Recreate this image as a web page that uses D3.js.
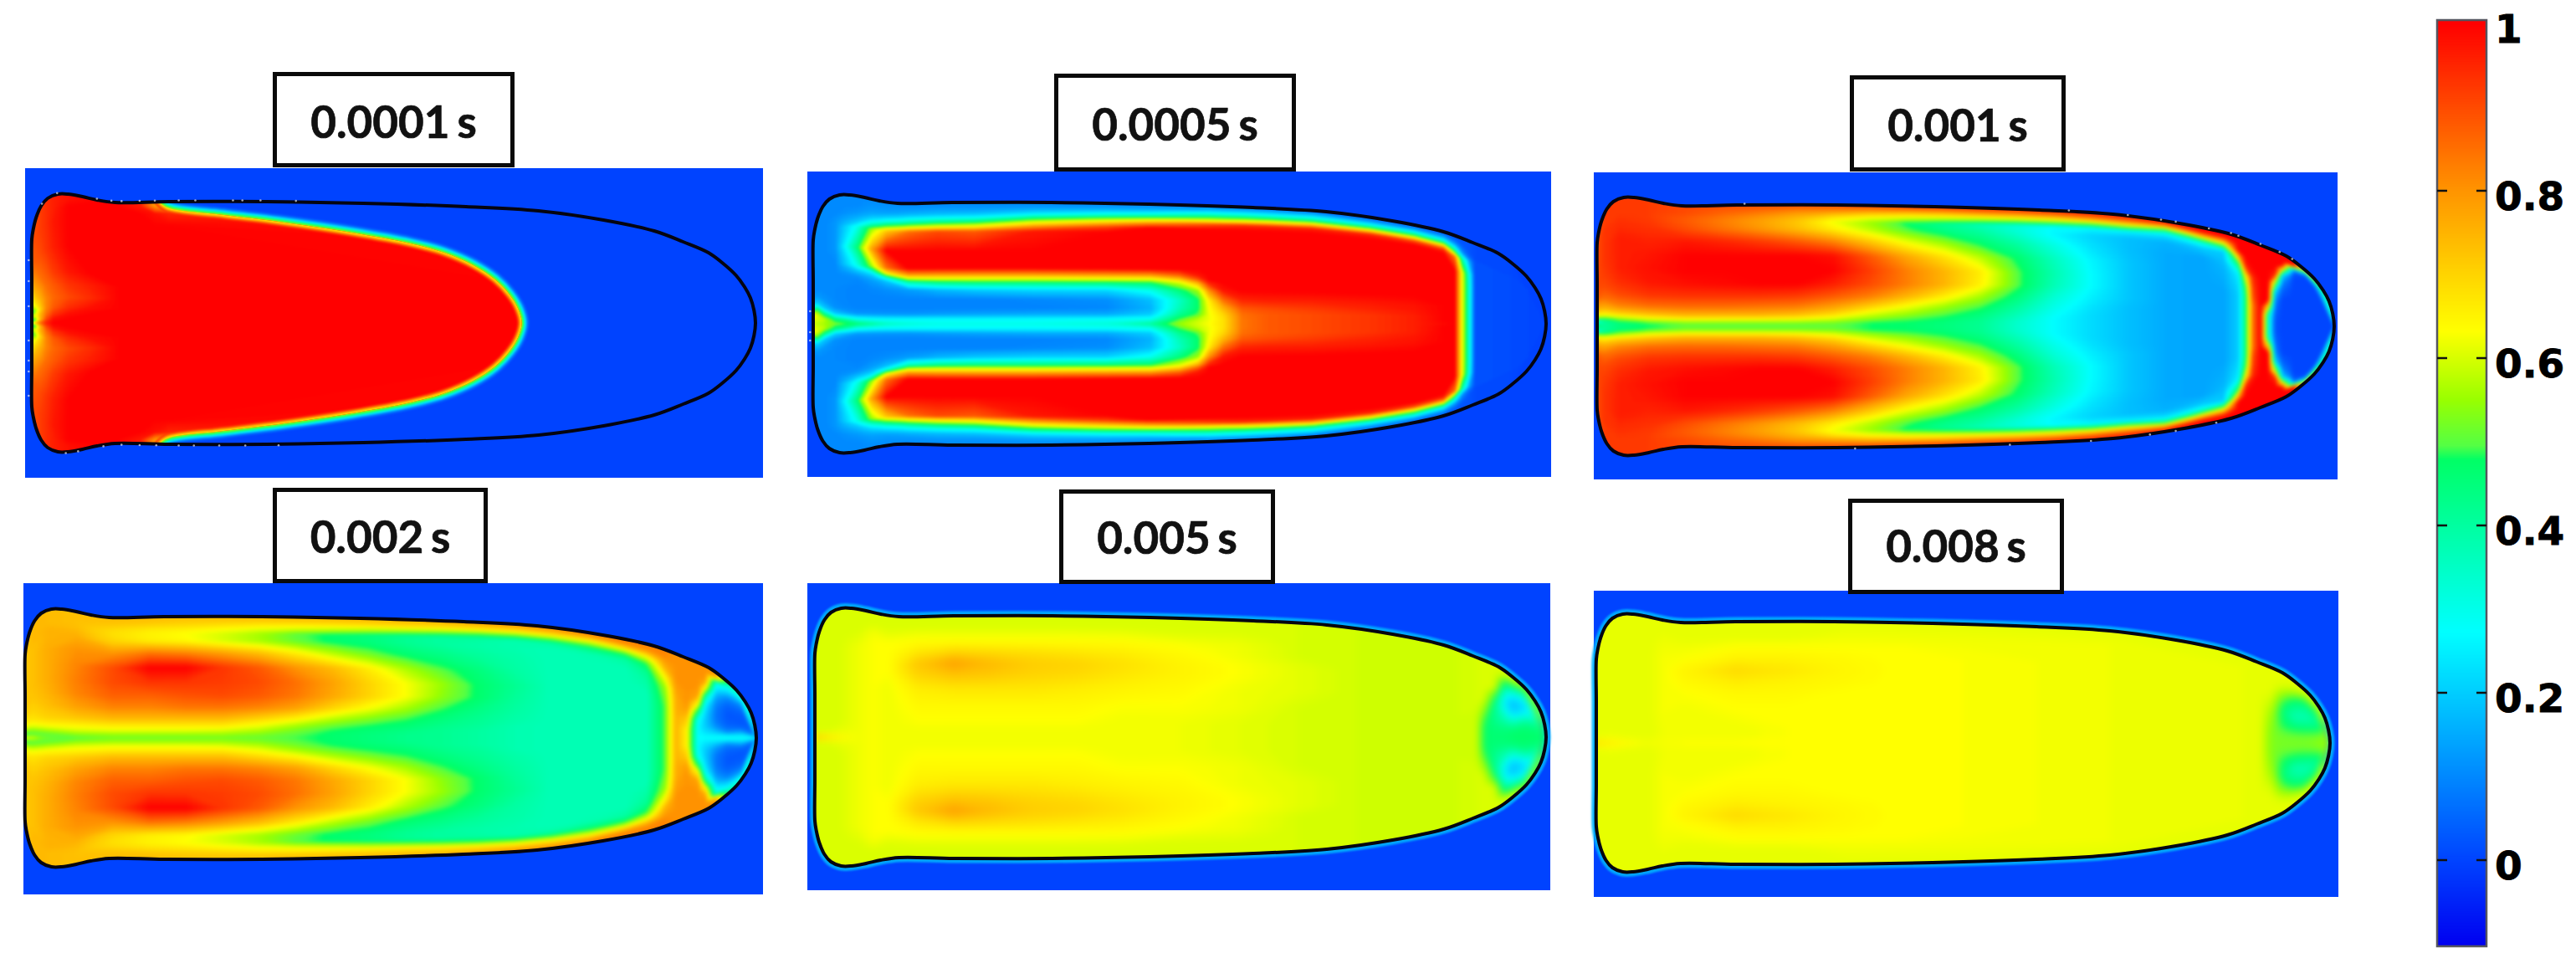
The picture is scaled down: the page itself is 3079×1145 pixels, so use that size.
<!DOCTYPE html>
<html><head><meta charset="utf-8">
<script src="https://cdn.jsdelivr.net/npm/d3@7"></script>
<style>html,body{margin:0;padding:0;background:#fff}svg{display:block}</style>
</head><body>
<script>
// ---------- colour bar ----------
const cbStops  = [-0.103, 0, 0.272, 0.478, 0.495, 0.55, 0.632, 0.8, 1];
const cbColors = ["#0000f0","#0044ff","#00ffff","#00ff66","#55ff44","#99ff00","#ffff00","#ff9400","#ff0000"];
const cbTicks  = [0, 0.2, 0.4, 0.6, 0.8, 1];
const cbTickLabels = ["0","0.2","0.4","0.6","0.8","1"];
const timeLabels = ["0.0001 s","0.0005 s","0.001 s","0.002 s","0.005 s","0.008 s"];

// ---------- droplet outline: axial position u, half-height ----------
const outlineU = [0,.002,.006,.013,.022,.036,.05,.07,.09,.115,.19,.324,.458,.6,.7,.79,.86,.9,.935,.954,.973,.985,.993,.998,1];
const outlineH = [100,112,126,140,149,154,154,151,147,144,145,145,143,139,134,123,110,97,84,72,57,43,30,15,0];

// ---------- 0.0001 s: red front ----------
const frontU = [-.05,.165,.175,.187,.265,.341,.442,.523,.57,.61,.64,.66,.672,.677];
const frontH = [175,160,146,138,129,121,108,95,84,69,52,34,17,0];
const u1 = [0,.005,.012,.02,.03,.05,.08,.12,.15,.17,.19,1];
const w1 = [0,.03,.07,.12,.2,.3,.4,.6,.8,.9,.96,1];
const m1 = [
[.55,.42,.55,.42,.6,.68,.75,.85,.88,.9,.9,.9],
[.7,.5,.62,.55,.68,.75,.8,.88,.9,.9,.9,.9],
[.85,.75,.75,.7,.75,.8,.85,.9,.92,.92,.92,.92],
[.95,.9,.85,.82,.82,.85,.88,.93,.94,.94,.94,.94],
[1,.98,.93,.88,.86,.88,.92,.96,.97,.96,.96,.96],
[1,1,.98,.94,.9,.93,.97,1,1,1,.98,.98],
[1,1,1,.98,.94,.96,1,1,1,1,1,.99],
[1,1,1,1,1,1,1,1,1,1,1,1],
[1,1,1,1,1,1,1,1,1,1,.97,.95],
[1,1,1,1,1,1,1,1,1,.98,.8,.75],
[1,1,1,1,1,1,1,1,1,.95,.7,.65],
[1,1,1,1,1,1,1,1,1,1,1,1]];

// ---------- 0.0005 s ----------
const u2 = [0,.005,.015,.03,.06,.08,.1,.13,.17,.22,.3,.4,.46,.5,.525,.54,.56,.585,.62,.68,.76,.82,.86,.875,.885,.891,.896,.903,1];
const w2 = [0,.035,.08,.13,.2,.28,.345,.375,.41,.46,.6,.76,.8,.84,.875,.905,.935,.965,1];
const m2 = [
[.6,.6,.63,.58,.25,.13,.1,.1,.1,.1,.1,.1,.1,.1,.1,.1,.1,.1,.1],
[.58,.6,.62,.5,.2,.12,.1,.1,.1,.1,.1,.1,.1,.1,.1,.1,.1,.1,.1],
[.56,.58,.45,.2,.12,.1,.1,.1,.1,.1,.1,.1,.1,.1,.1,.1,.1,.1,.1],
[.52,.45,.2,.11,.1,.1,.1,.1,.1,.1,.12,.12,.12,.11,.1,.1,.1,.1,.1],
[.45,.3,.12,.09,.09,.09,.1,.12,.18,.3,.45,.3,.2,.15,.12,.11,.1,.1,.1],
[.4,.28,.12,.09,.09,.1,.13,.17,.25,.55,.78,.55,.35,.22,.16,.13,.12,.11,.1],
[.35,.27,.12,.09,.09,.11,.18,.3,.62,.85,1,.72,.5,.3,.2,.14,.12,.11,.1],
[.32,.27,.12,.09,.09,.13,.38,.6,.8,1,1,.85,.6,.38,.25,.17,.13,.11,.1],
[.3,.27,.13,.09,.09,.17,.45,.63,.8,1,1,.9,.63,.42,.27,.18,.14,.11,.1],
[.3,.27,.14,.09,.09,.2,.47,.63,.8,1,1,.88,.65,.45,.28,.19,.14,.11,.1],
[.3,.27,.15,.09,.1,.22,.47,.63,.8,1,1,.97,.8,.6,.42,.25,.17,.12,.1],
[.32,.28,.15,.1,.11,.22,.47,.63,.8,1,1,1,.92,.72,.52,.33,.2,.13,.1],
[.4,.3,.2,.16,.18,.3,.48,.63,.8,1,1,1,1,.8,.58,.37,.22,.13,.1],
[.55,.5,.42,.37,.35,.45,.6,.72,.87,1,1,1,1,.85,.62,.42,.27,.14,.1],
[.6,.58,.5,.47,.47,.55,.75,.88,.97,1,1,1,1,.88,.63,.45,.3,.15,.1],
[.63,.62,.62,.63,.66,.8,.95,1,1,1,1,1,1,.9,.63,.47,.3,.17,.1],
[.68,.68,.7,.75,.85,.97,1,1,1,1,1,1,1,.92,.63,.47,.3,.17,.08],
[.84,.84,.85,.88,.95,1,1,1,1,1,1,1,1,.94,.65,.48,.3,.17,.08],
[.88,.88,.88,.9,.96,1,1,1,1,1,1,1,1,.95,.68,.48,.3,.17,.08],
[.9,.9,.9,.92,.96,1,1,1,1,1,1,1,1,.96,.72,.48,.3,.17,.05],
[.93,.93,.93,.95,.97,1,1,1,1,1,1,1,1,.95,.7,.47,.27,.13,.05],
[.96,.96,.96,.97,.98,1,1,1,1,1,1,1,1,.9,.65,.45,.27,.12,.05],
[.99,1,1,1,1,1,1,1,1,1,1,1,.95,.75,.5,.3,.17,.08,.03],
[1,1,1,1,1,1,1,1,1,1,1,.85,.6,.4,.25,.15,.08,.04,.02],
[.63,.63,.63,.63,.63,.63,.63,.63,.63,.63,.63,.4,.25,.12,.08,.05,.03,.02,.02],
[.47,.47,.47,.47,.47,.47,.47,.47,.47,.47,.45,.25,.12,.06,.04,.03,.02,.02,.02],
[.27,.27,.27,.27,.27,.27,.27,.27,.27,.27,.25,.12,.06,.03,.02,.02,.02,.02,.02],
[.02,.02,.02,.02,.02,.02,.02,.02,.02,.02,.02,.02,.01,.01,.01,.01,.01,.01,.01],
[0,0,0,0,0,0,0,0,0,0,0,0,0,0,0,0,0,0,0]];

// ---------- 0.001 s ----------
const u3 = [0,.01,.03,.07,.12,.17,.22,.27,.32,.37,.42,.47,.52,.57,.62,.67,.72,.77,.82,.85,.87,.88,.89,.9,.91,.92,.93,.945,.96,1];
const w3 = [0,.03,.06,.1,.16,.25,.35,.46,.58,.7,.8,.86,.9,.94,.97,1];
const m3 = [
[.5,.35,.3,.55,.7,.8,.88,.9,.9,.9,.9,.9,.9,.9,.9,.9],
[.42,.4,.45,.63,.75,.85,.9,.92,.93,.93,.93,.93,.92,.92,.92,.92],
[.45,.45,.55,.7,.82,.9,.94,.96,.96,.96,.94,.93,.92,.92,.92,.92],
[.47,.5,.62,.74,.85,.93,.97,.98,.97,.95,.93,.92,.92,.92,.92,.92],
[.5,.53,.65,.76,.85,.93,.98,1,1,.97,.9,.88,.88,.9,.9,.9],
[.5,.53,.65,.76,.85,.93,.99,1,1,.95,.85,.83,.84,.87,.88,.9],
[.5,.53,.65,.76,.84,.93,1,1,1,.92,.8,.78,.8,.84,.87,.9],
[.5,.53,.64,.74,.83,.92,1,1,1,.88,.74,.72,.75,.8,.85,.9],
[.5,.52,.6,.69,.78,.88,.96,1,.98,.82,.66,.62,.68,.78,.85,.9],
[.48,.48,.54,.6,.7,.83,.9,.92,.88,.72,.58,.55,.63,.74,.84,.9],
[.47,.47,.5,.55,.62,.75,.83,.83,.77,.62,.5,.47,.6,.72,.84,.92],
[.45,.45,.47,.5,.55,.66,.75,.75,.68,.55,.44,.42,.58,.72,.84,.92],
[.42,.42,.43,.45,.49,.56,.65,.66,.58,.47,.4,.37,.55,.72,.85,.92],
[.34,.34,.35,.37,.4,.45,.5,.5,.47,.4,.33,.32,.53,.72,.85,.93],
[.27,.27,.27,.28,.3,.33,.37,.38,.36,.31,.26,.27,.52,.72,.86,.94],
[.22,.22,.22,.22,.23,.25,.27,.27,.26,.23,.21,.26,.5,.74,.88,.95],
[.18,.18,.18,.18,.18,.19,.19,.19,.19,.18,.18,.25,.52,.76,.9,.96],
[.15,.15,.15,.15,.15,.15,.15,.15,.15,.15,.16,.22,.35,.62,.88,.97],
[.14,.14,.14,.14,.14,.14,.14,.14,.14,.14,.2,.35,.6,.85,1,1],
[.14,.14,.14,.14,.14,.14,.14,.15,.16,.18,.2,.5,.7,.9,1,1],
[.2,.2,.2,.2,.2,.2,.2,.22,.25,.45,.8,1,1,1,1,1],
[.45,.45,.45,.45,.45,.45,.45,.5,.65,.95,1,1,1,1,1,1],
[.85,.85,.85,.85,.85,.85,.9,.92,.95,1,1,1,1,1,1,1],
[1,1,1,1,1,1,1,1,1,1,1,1,1,1,1,1],
[.35,.35,.35,.35,.4,.7,1,1,1,1,1,1,1,1,1,1],
[.02,.02,.02,.03,.04,.06,.1,.2,.55,.95,1,1,1,1,1,1],
[0,0,0,0,0,0,0,.03,.08,.2,.7,1,1,1,1,1],
[0,0,0,0,0,0,0,0,0,0,.02,.1,.5,1,1,1],
[0,0,0,0,0,0,0,0,0,0,0,0,.05,.2,.45,.7],
[0,0,0,0,0,0,0,0,0,0,0,0,0,0,.15,.3]];

// ---------- 0.002 s ----------
const u4 = [0,.01,.03,.07,.12,.17,.22,.27,.32,.37,.42,.47,.52,.57,.62,.67,.72,.77,.82,.85,.875,.89,.905,.92,.93,.945,.96,.98,1];
const w4 = w3;
const m4 = [
[.65,.48,.5,.58,.65,.7,.72,.72,.72,.72,.72,.72,.72,.72,.72,.72],
[.6,.5,.52,.6,.67,.7,.72,.73,.73,.73,.73,.74,.74,.74,.74,.74],
[.52,.5,.56,.64,.7,.73,.75,.76,.76,.76,.75,.75,.74,.74,.74,.74],
[.5,.54,.6,.65,.72,.78,.82,.83,.82,.8,.76,.74,.73,.73,.73,.73],
[.52,.55,.61,.66,.74,.82,.87,.9,.9,.8,.7,.68,.69,.72,.73,.73],
[.52,.55,.61,.66,.74,.82,.87,.93,1,.84,.66,.65,.67,.71,.73,.73],
[.52,.55,.61,.66,.74,.84,.89,.93,1,.82,.64,.63,.66,.7,.72,.73],
[.52,.55,.6,.66,.74,.84,.9,.92,.93,.78,.6,.6,.64,.69,.72,.73],
[.51,.53,.57,.62,.7,.82,.88,.9,.88,.73,.56,.56,.62,.68,.72,.73],
[.49,.5,.52,.56,.65,.78,.84,.85,.8,.66,.51,.5,.6,.67,.72,.73],
[.47,.47,.48,.51,.58,.7,.77,.78,.74,.58,.47,.47,.58,.67,.72,.73],
[.45,.45,.46,.48,.53,.63,.7,.7,.66,.52,.45,.45,.56,.67,.72,.74],
[.43,.43,.44,.46,.49,.56,.63,.63,.57,.47,.42,.42,.54,.67,.72,.75],
[.42,.42,.42,.43,.45,.49,.54,.55,.5,.44,.4,.4,.52,.66,.72,.76],
[.4,.4,.4,.41,.42,.44,.47,.47,.45,.41,.39,.4,.5,.66,.73,.78],
[.38,.38,.38,.38,.39,.4,.41,.42,.4,.39,.38,.38,.5,.66,.74,.8],
[.37,.37,.37,.37,.37,.37,.37,.37,.37,.37,.37,.4,.52,.68,.76,.8],
[.37,.37,.37,.37,.37,.37,.37,.37,.37,.37,.38,.45,.55,.68,.78,.82],
[.37,.37,.37,.37,.37,.37,.37,.37,.37,.37,.4,.5,.62,.76,.82,.82],
[.37,.37,.37,.37,.37,.37,.37,.37,.39,.42,.5,.62,.72,.8,.82,.82],
[.5,.5,.5,.5,.5,.5,.5,.52,.55,.65,.75,.78,.8,.82,.82,.82],
[.75,.75,.75,.75,.75,.75,.76,.76,.78,.8,.8,.8,.8,.8,.8,.8],
[.65,.65,.65,.65,.68,.72,.78,.8,.8,.8,.8,.8,.8,.8,.8,.8],
[.27,.27,.27,.27,.27,.3,.45,.65,.78,.8,.8,.8,.8,.8,.8,.8],
[.27,.26,.24,.22,.2,.2,.22,.27,.4,.65,.78,.8,.8,.8,.8,.8],
[.27,.26,.22,.18,.12,.08,.07,.08,.12,.2,.28,.35,.6,.75,.8,.8],
[.27,.26,.2,.12,.07,.04,.03,.03,.05,.1,.2,.25,.3,.35,.4,.5],
[.27,.26,.24,.2,.12,.05,.03,.03,.04,.07,.12,.18,.25,.3,.3,.3],
[.27,.26,.25,.22,.15,.08,.05,.05,.06,.08,.12,.18,.25,.3,.3,.3]];

// ---------- 0.005 s ----------
const u5 = [0,.01,.03,.06,.08,.1,.14,.19,.24,.3,.36,.42,.5,.58,.66,.74,.82,.88,.905,.915,.93,.945,.955,.97,1];
const w5 = [0,.015,.05,.12,.25,.4,.52,.61,.7,.78,.85,.92,1];
const m5 = [
[.8,.65,.6,.6,.6,.6,.6,.6,.6,.6,.6,.6,.6],
[.75,.65,.6,.6,.6,.6,.6,.6,.6,.6,.6,.6,.6],
[.68,.63,.61,.6,.6,.6,.6,.6,.6,.6,.6,.6,.6],
[.62,.62,.62,.62,.62,.62,.62,.62,.62,.61,.6,.6,.6],
[.63,.63,.63,.63,.63,.63,.63,.63,.63,.63,.62,.6,.6],
[.62,.62,.62,.62,.62,.62,.63,.63,.63,.63,.61,.6,.6],
[.62,.62,.62,.63,.64,.66,.7,.72,.67,.64,.62,.6,.6],
[.62,.62,.62,.63,.64,.67,.73,.78,.7,.64,.62,.6,.6],
[.62,.62,.62,.63,.64,.67,.72,.74,.69,.64,.62,.6,.6],
[.62,.62,.62,.63,.64,.67,.7,.71,.68,.64,.62,.6,.6],
[.62,.62,.62,.63,.64,.66,.69,.7,.67,.64,.62,.6,.6],
[.62,.62,.62,.62,.63,.65,.67,.68,.66,.64,.62,.6,.6],
[.62,.62,.62,.62,.63,.64,.65,.65,.64,.63,.61,.6,.6],
[.61,.61,.61,.61,.62,.62,.63,.63,.62,.62,.61,.6,.6],
[.6,.6,.6,.6,.6,.61,.61,.61,.6,.6,.6,.6,.6],
[.595,.595,.595,.595,.595,.595,.595,.595,.595,.595,.595,.595,.595],
[.59,.59,.59,.59,.59,.59,.59,.59,.59,.59,.59,.59,.59],
[.595,.595,.595,.595,.595,.595,.595,.595,.595,.595,.595,.595,.595],
[.59,.59,.59,.59,.59,.6,.6,.6,.6,.6,.6,.6,.6],
[.47,.47,.47,.47,.5,.56,.6,.6,.6,.6,.6,.6,.6],
[.46,.46,.46,.45,.42,.42,.46,.52,.6,.6,.6,.6,.6],
[.46,.46,.46,.45,.38,.28,.23,.27,.33,.42,.46,.58,.6],
[.47,.47,.47,.46,.36,.22,.17,.2,.27,.38,.46,.55,.6],
[.47,.47,.47,.47,.44,.34,.24,.22,.25,.3,.38,.46,.55],
[.47,.47,.47,.47,.46,.45,.43,.43,.44,.45,.46,.47,.5]];

// ---------- 0.008 s ----------
const u6 = [0,.02,.04,.07,.09,.12,.19,.26,.34,.42,.5,.6,.7,.8,.88,.905,.92,.935,.95,.965,.98,1];
const w6 = [0,.015,.05,.12,.25,.4,.5,.6,.7,.8,.88,1];
const m6 = [
[.75,.65,.62,.61,.61,.61,.61,.61,.61,.61,.61,.61],
[.68,.64,.62,.61,.61,.61,.61,.61,.61,.61,.61,.61],
[.65,.63,.615,.61,.61,.61,.61,.61,.61,.61,.61,.61],
[.62,.62,.61,.61,.61,.61,.61,.61,.61,.61,.61,.61],
[.625,.625,.62,.62,.625,.625,.625,.625,.625,.62,.615,.61],
[.63,.63,.62,.62,.62,.63,.64,.65,.63,.62,.61,.61],
[.63,.63,.62,.62,.63,.64,.66,.69,.65,.63,.61,.61],
[.63,.63,.63,.63,.63,.64,.65,.67,.65,.63,.61,.61],
[.63,.63,.63,.63,.63,.63,.64,.645,.64,.63,.62,.61],
[.63,.63,.63,.63,.63,.63,.63,.63,.63,.63,.62,.61],
[.63,.63,.63,.63,.63,.63,.63,.63,.63,.625,.62,.61],
[.625,.625,.625,.625,.625,.625,.625,.625,.625,.62,.62,.61],
[.62,.62,.62,.62,.62,.62,.62,.62,.62,.62,.62,.61],
[.615,.615,.615,.615,.615,.615,.615,.615,.615,.615,.615,.61],
[.615,.615,.615,.615,.615,.615,.615,.615,.615,.615,.615,.61],
[.61,.61,.61,.61,.61,.61,.61,.61,.61,.61,.61,.61],
[.53,.53,.53,.53,.54,.56,.58,.6,.61,.61,.61,.61],
[.52,.52,.52,.51,.48,.46,.47,.5,.55,.6,.61,.61],
[.52,.52,.52,.51,.46,.38,.4,.44,.48,.55,.6,.61],
[.52,.52,.52,.51,.47,.4,.37,.4,.44,.48,.55,.61],
[.53,.53,.53,.52,.49,.44,.41,.41,.44,.48,.55,.6],
[.55,.55,.55,.55,.55,.54,.53,.53,.54,.55,.57,.58]];

// ---------- wall speckles (axial position, signed fraction of half-height) ----------
const speckU1 = [.014,.035,.09,.11,.124,.149,.17,.203,.226,.278,.291,.316,.365,.047,.064,.099,.124,.149,.172,.203,.224,.259,.295,.341,-.002,-.002,-.002,-.002,-.002,-.002,-.002];
const speckW1 = [1,1,1,1,1,1,1,1,1,1,1,1,1,-1,-1,-1,-1,-1,-1,-1,-1,-1,-1,-1,.75,.5,.2,-.21,-.45,-.58,-.87];
const speckU3 = [.2,.64,.72,.765,.785,.83,.86,.87,.9,.926,.943,.35,.56,.67,.75,.785,.84];
const speckW3 = [1,1,1,1,1,1,1,1,1,1,1,-1,-1,-1,-1,-1,-1];
const speckU2 = [-.002,-.002,-.002];
const speckW2 = [.15,-.1,-.2];

const panelData = [
  {m:m1,u:u1,w:w1,front:true, speckU:speckU1,speckW:speckW1,halo:0,blur:1.2},
  {m:m2,u:u2,w:w2,speckU:speckU2,speckW:speckW2,halo:0,blur:1.6},
  {m:m3,u:u3,w:w3,speckU:speckU3,speckW:speckW3,halo:0,blur:2},
  {m:m4,u:u4,w:w4,speckU:[],speckW:[],halo:0,blur:2},
  {m:m5,u:u5,w:w5,speckU:[],speckW:[],halo:11,blur:4},
  {m:m6,u:u6,w:w6,speckU:[],speckW:[],halo:11,blur:4}
];

// ---------- layout ----------
const layout = [
  {x0:30,  y0:201,x1:912, y1:571, wall:38,  nose:903, cy:386,box:[326,86,615,200], base:165},
  {x0:965, y0:205,x1:1854,y1:570, wall:972, nose:1848,cy:387,box:[1260,88,1549,205],base:168},
  {x0:1905,y0:206,x1:2794,y1:573, wall:1909,nose:2790,cy:390,box:[2211,90,2469,205],base:169},
  {x0:28,  y0:697,x1:912, y1:1069,wall:30,  nose:904, cy:882,box:[326,583,583,697], base:661},
  {x0:965, y0:697,x1:1853,y1:1064,wall:974, nose:1848,cy:881,box:[1266,585,1524,698],base:662},
  {x0:1905,y0:706,x1:2795,y1:1072,wall:1908,nose:2785,cy:888,box:[2209,596,2467,710],base:672}
];

const W = 3079, H = 1145;
const svg = d3.select("body").append("svg").attr("width",W).attr("height",H).attr("viewBox",[0,0,W,H]);
svg.append("rect").attr("width",W).attr("height",H).attr("fill","#fff");
const defs = svg.append("defs");
[1,1.2,1.6,2,4].forEach(s=>{
  defs.append("filter").attr("id","blur"+String(s).replace(".","_"))
    .attr("x","-5%").attr("y","-5%").attr("width","110%").attr("height","110%")
    .attr("color-interpolation-filters","sRGB")
    .append("feGaussianBlur").attr("stdDeviation",s);
});
const blurId = s=>"url(#blur"+String(s).replace(".","_")+")";

const colour = d3.scaleLinear().domain(cbStops).range(cbColors).clamp(true);
const bgBlue = "#0043ff";
const halfH = d3.scaleLinear().domain(outlineU).range(outlineH).clamp(true);
const levels = d3.range(-0.02,1.005,0.005);

function closedPts(us,hs,extra){
  const top = us.map((u,i)=>[u,hs[i]]);
  const bottom = us.map((u,i)=>[u,-hs[i]]).reverse();
  if(top[top.length-1][1]===0) bottom.shift();
  return (extra||[]).concat(top,bottom);
}

panelData.forEach((pd,pi)=>{
  const L = layout[pi];
  const x = d3.scaleLinear().domain([0,1]).range([L.wall,L.nose]);
  const y = d3.scaleLinear().domain([-1,1]).range([L.cy+1,L.cy-1]);
  const line = d3.line().x(d=>x(d[0])).y(d=>y(d[1])).curve(d3.curveCatmullRomClosed.alpha(.5));
  const g = svg.append("g");
  g.append("rect").attr("x",L.x0).attr("y",L.y0).attr("width",L.x1-L.x0).attr("height",L.y1-L.y0).attr("fill",bgBlue);

  const shape = line(closedPts(outlineU,outlineH,[[0,-50],[0,0],[0,50]]));
  const clipId = "shape"+pi;
  defs.append("clipPath").attr("id",clipId).append("path").attr("d",shape);

  // grid, padded and mirrored about the axis
  const colsP = [pd.u[0]-.06,...pd.u,pd.u[pd.u.length-1]+.06];
  const rowsS = [1.4,...pd.w.slice().reverse(),...pd.w.slice(1).map(v=>-v),-1.4];
  const n = colsP.length, m = rowsS.length;
  const vals = new Array(n*m);
  const rowIdx = [pd.w.length-1,...d3.range(pd.w.length-1,-1,-1),...d3.range(1,pd.w.length),pd.w.length-1];
  for(let j=0;j<m;j++)for(let i=0;i<n;i++){
    const ci = Math.max(0,Math.min(pd.u.length-1,i-1));
    vals[i+j*n] = pd.m[ci][rowIdx[j]];
  }
  const iu = d3.scaleLinear().domain(d3.range(n).map(i=>i+.5)).range(colsP);
  const iw = d3.scaleLinear().domain(d3.range(m).map(j=>j+.5)).range(rowsS);
  const proj = d3.geoTransform({point(cx,cy){
    const u = iu(cx), w = iw(cy);
    this.stream.point(x(u), y(w*halfH(u)));
  }});
  const path = d3.geoPath(proj);
  const contours = d3.contours().size([n,m]).smooth(true);
  const layers = levels.map(t=>({t,geo:contours.contour(vals,t)})).filter(d=>d.geo.coordinates.length);

  const inner = g.append("g").attr("clip-path",`url(#${clipId})`);
  let host = inner;
  let frontPath = null;
  if(pd.front){
    frontPath = line(closedPts(frontU,frontH));
    const fid = "front"+pi;
    defs.append("clipPath").attr("id",fid).append("path").attr("d",frontPath);
    const outer = inner.append("g").attr("filter",blurId(1));
    [[18,.04],[14,.12],[11,.2],[9,.27],[7,.38],[5,.47],[2.5,.56]].forEach(([sw,v])=>{
      outer.append("path").attr("d",frontPath).attr("fill","none").attr("stroke",colour(v)).attr("stroke-width",sw);
    });
    host = inner.append("g").attr("clip-path",`url(#${fid})`);
  }
  if(pd.halo){
    g.append("path").attr("d",shape).attr("fill","none").attr("stroke","#00b4ff")
      .attr("stroke-width",pd.halo).attr("filter",blurId(1)).attr("stroke-opacity",.9);
    g.node().appendChild(inner.node());
  }
  const field = host.append("g").attr("filter",blurId(pd.blur));
  field.selectAll("path").data(layers).join("path")
    .attr("d",d=>path(d.geo))
    .attr("fill",d=>colour(d.t+.0025));
  if(pd.front){
    const rim = host.append("g").attr("filter",blurId(1));
    [[11,.95],[8,.85],[5,.75],[2,.65]].forEach(([sw,v])=>{
      rim.append("path").attr("d",frontPath).attr("fill","none").attr("stroke",colour(v)).attr("stroke-width",sw);
    });
  }
  g.append("path").attr("d",shape).attr("fill","none").attr("stroke","#050510").attr("stroke-width",4);

  // wall speckles
  const sp = pd.speckU.map((u,i)=>[u,pd.speckW[i]]);
  g.selectAll("circle.sp").data(sp).join("circle").attr("class","sp")
    .attr("cx",d=>x(d[0])-(d[0]<0?2:0))
    .attr("cy",d=>y(d[1]*(halfH(d[0])+(d[0]<0?0:1.5))))
    .attr("r",1.3).attr("fill","#e8e8f0").attr("fill-opacity",.7);

  // time label box
  const [bx0,by0,bx1,by1] = L.box;
  g.append("rect").attr("x",bx0+2.5).attr("y",by0+2.5).attr("width",bx1-bx0-5).attr("height",by1-by0-5)
    .attr("fill","#fff").attr("stroke","#0a0a0a").attr("stroke-width",5);
  g.append("text").attr("x",(bx0+bx1)/2).attr("y",L.base).attr("text-anchor","middle")
    .attr("font-family","Lato, 'Open Sans', sans-serif").attr("font-weight",700).attr("font-size",53)
    .attr("word-spacing",-4).attr("fill","#111").attr("stroke","#111").attr("stroke-width",.7).text(timeLabels[pi]);
});

// ---------- colour bar ----------
const cb = svg.append("g");
const cbY = d3.scaleLinear().domain([0,1]).range([1028,28]);
const cbX0 = 2913, cbX1 = 2972;
const cbCells = d3.range(-0.103,1.004,0.002);
cb.selectAll("rect.c").data(cbCells).join("rect").attr("class","c")
  .attr("x",cbX0).attr("width",cbX1-cbX0)
  .attr("y",d=>cbY(d+.002)).attr("height",d=>cbY(d)-cbY(d+.002)+.6)
  .attr("fill",d=>colour(d));
cb.append("rect").attr("x",cbX0).attr("y",cbY(1.004)).attr("width",cbX1-cbX0).attr("height",cbY(-.103)-cbY(1.004))
  .attr("fill","none").attr("stroke","#55555f").attr("stroke-width",2.5);
cbTicks.forEach((t,i)=>{
  const yy = cbY(t);
  if(t<1){
    cb.append("line").attr("x1",cbX0).attr("x2",cbX0+12).attr("y1",yy).attr("y2",yy).attr("stroke","#111").attr("stroke-width",2.5);
    cb.append("line").attr("x1",cbX1-12).attr("x2",cbX1).attr("y1",yy).attr("y2",yy).attr("stroke","#111").attr("stroke-width",2.5);
  }
  cb.append("text").attr("x",2982).attr("y",yy+23)
    .attr("font-family","'DejaVu Sans', sans-serif").attr("font-weight",700).attr("font-size",47)
    .attr("fill","#000").attr("stroke","#000").attr("stroke-width",.8).text(cbTickLabels[i]);
});
</script>
</body></html>
